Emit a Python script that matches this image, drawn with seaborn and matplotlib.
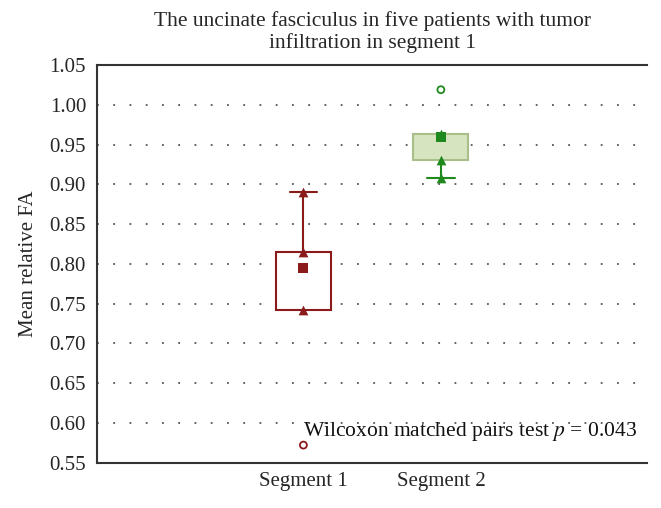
import numpy as np
import pandas as pd
import matplotlib
matplotlib.use("Agg")
import matplotlib.pyplot as plt
import seaborn as sns

# gia tri doc tu hinh (5 benh nhan)
segment_names = ["Segment 1", "Segment 2"]
seg1_values = [0.572, 0.742, 0.795, 0.815, 0.890]
seg2_values = [0.908, 0.931, 0.960, 0.963, 1.019]
y_ticks = [0.55, 0.60, 0.65, 0.70, 0.75, 0.80, 0.85, 0.90, 0.95, 1.00, 1.05]

edge_colors = ["#8b1a1a", "#a9bf8a"]
line_colors = ["#8b1a1a", "#1e8a1e"]
fill_colors = ["white", "#d7e4c0"]

sns.set_style("white")
plt.rcParams["font.family"] = ["Liberation Serif", "DejaVu Serif"]
plt.rcParams["mathtext.fontset"] = "stix"

df = pd.DataFrame({
    "segment": ["Segment 1"] * len(seg1_values) + ["Segment 2"] * len(seg2_values),
    "fa": seg1_values + seg2_values,
})

fig = plt.figure(figsize=(6.61, 5.08), dpi=100)
ax = fig.add_axes([0.147, 0.0894, 0.832, 0.7825])

sns.boxplot(data=df, x="segment", y="fa", order=segment_names, width=0.4,
            whis=1.5, ax=ax, fliersize=0, linewidth=1.5)

# to mau tung hop (mot container chua ca hai hop)
for bc in ax.containers:
    for i, b in enumerate(bc.boxes):
        b.set_facecolor(fill_colors[i])
        b.set_edgecolor(edge_colors[i])
        b.set_linewidth(1.5)
    for j, (w, c) in enumerate(zip(bc.whiskers, bc.caps)):
        i = j // 2
        w.set_color(line_colors[i])
        c.set_color(line_colors[i])
        # an rau co chieu dai 0
        yy = w.get_ydata()
        if abs(yy[0] - yy[1]) < 1e-9:
            w.set_visible(False)
            c.set_visible(False)
    for ln in bc.medians:
        ln.set_visible(False)

# luoi cham ngang
for t in y_ticks[1:-1]:
    ax.axhline(t, color="#555555", lw=1.3, ls=(0, (1, 8)), zorder=0)

# tach diem: ngoai lai, trung vi, con lai
rows = []
for name, vals in zip(segment_names, [seg1_values, seg2_values]):
    v = np.array(vals)
    q1, med, q3 = np.percentile(v, [25, 50, 75])
    iqr = q3 - q1
    for x in v:
        if x < q1 - 1.5 * iqr or x > q3 + 1.5 * iqr:
            kind = "outlier"
        elif x == med:
            kind = "median"
        else:
            kind = "point"
        rows.append({"segment": name, "fa": x, "kind": kind})
pts = pd.DataFrame(rows)

for i, name in enumerate(segment_names):
    sub = pts[pts["segment"] == name]
    sns.stripplot(data=sub[sub["kind"] == "point"], x="segment", y="fa",
                  order=segment_names, jitter=False, marker="^", size=7,
                  color=line_colors[i], ax=ax, zorder=4)
    sns.stripplot(data=sub[sub["kind"] == "median"], x="segment", y="fa",
                  order=segment_names, jitter=False, marker="s", size=7,
                  color=line_colors[i], ax=ax, zorder=5)
    sns.stripplot(data=sub[sub["kind"] == "outlier"], x="segment", y="fa",
                  order=segment_names, jitter=False, marker="o", size=5,
                  facecolor="none", edgecolor=line_colors[i], linewidth=1.3,
                  ax=ax, zorder=5)

ax.set_xlim(-1.5, 2.5)
ax.set_ylim(0.55, 1.05)
ax.set_yticks(y_ticks)
ax.set_yticklabels([f"{t:.2f}" for t in y_ticks], fontsize=15)
ax.tick_params(axis="y", length=0, pad=8, left=True)
ax.tick_params(axis="x", length=0, labelsize=15, pad=7)
ax.set_xlabel("")
ax.set_ylabel("Mean relative FA", fontsize=15, labelpad=8)
ax.spines["right"].set_visible(False)
for s in ["left", "bottom", "top"]:
    ax.spines[s].set_color("#333333")
    ax.spines[s].set_linewidth(1.5)

ax.set_title("The uncinate fasciculus in five patients with tumor\ninfiltration in segment 1",
             fontsize=15.5, pad=12, linespacing=1.15)
ax.text(0.0, 0.5895, "Wilcoxon matched pairs test $p$ = 0.043", fontsize=15.5,
        ha="left", va="center", color="#111111")

plt.savefig("out.png", dpi=100)
plt.close(fig)
